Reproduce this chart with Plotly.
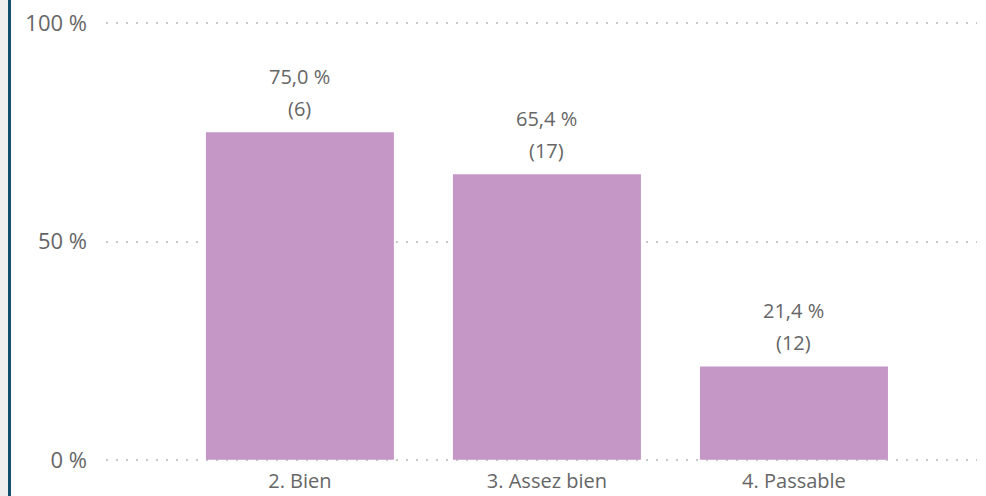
import plotly.graph_objects as go

categories = ["2. Bien", "3. Assez bien", "4. Passable"]
percents = [75.0, 65.4, 21.4]
counts = [6, 17, 12]
y_tickvals = [0, 50, 100]
y_ticktext = ["0 %", "50 %", "100 %"]

BAR = "#C497C7"
TXT = "#666666"
FONT = "Open Sans, Segoe UI, sans-serif"

fig = go.Figure()
fig.add_trace(go.Bar(
    x=categories, y=percents, marker=dict(color=BAR, line=dict(width=0)),
    hoverinfo="skip",
))

for c, p, n in zip(categories, percents, counts):
    fig.add_annotation(
        x=c, y=p, xref="x", yref="y",
        text=f"{p:.1f}".replace(".", ",") + " %",
        showarrow=False, yanchor="middle", yshift=56,
        font=dict(family=FONT, size=20, color=TXT),
    )
    fig.add_annotation(
        x=c, y=p, xref="x", yref="y",
        text=f"({n})",
        showarrow=False, yanchor="middle", yshift=24,
        font=dict(family=FONT, size=20, color=TXT),
    )

# left page decoration: grey strip and blue border line
fig.add_shape(type="rect", xref="paper", yref="paper",
              x0=-0.13, x1=-0.1125, y0=-0.2, y1=1.1,
              fillcolor="#EEEEEE", line=dict(width=0), layer="above")
fig.add_shape(type="rect", xref="paper", yref="paper",
              x0=-0.1125, x1=-0.1091, y0=-0.2, y1=1.1,
              fillcolor="#0F4C6B", line=dict(width=0), layer="above")

fig.update_layout(
    width=986, height=496,
    margin=dict(l=106, r=9, t=21, b=34),
    paper_bgcolor="white", plot_bgcolor="white",
    bargap=0.239,
    showlegend=False,
    font=dict(family=FONT, size=20, color=TXT),
    xaxis=dict(
        range=[-0.785, 2.741], showgrid=False, zeroline=False, showline=False,
        ticks="", tickfont=dict(family=FONT, size=20, color=TXT),
        ticklabelstandoff=5, fixedrange=True, automargin=False,
    ),
    yaxis=dict(
        range=[-0.5, 100.5], tickvals=y_tickvals, ticktext=y_ticktext,
        showgrid=True, gridcolor="#C8C8C8", gridwidth=2, griddash="2px,8px",
        zeroline=False, showline=False, ticks="",
        tickfont=dict(family=FONT, size=22, color=TXT),
        ticklabelstandoff=18, fixedrange=True, automargin=False,
    ),
)

fig.write_html(
    "out.html",
    config={"displayModeBar": False},
    post_script="document.body.style.margin='0';",
)
